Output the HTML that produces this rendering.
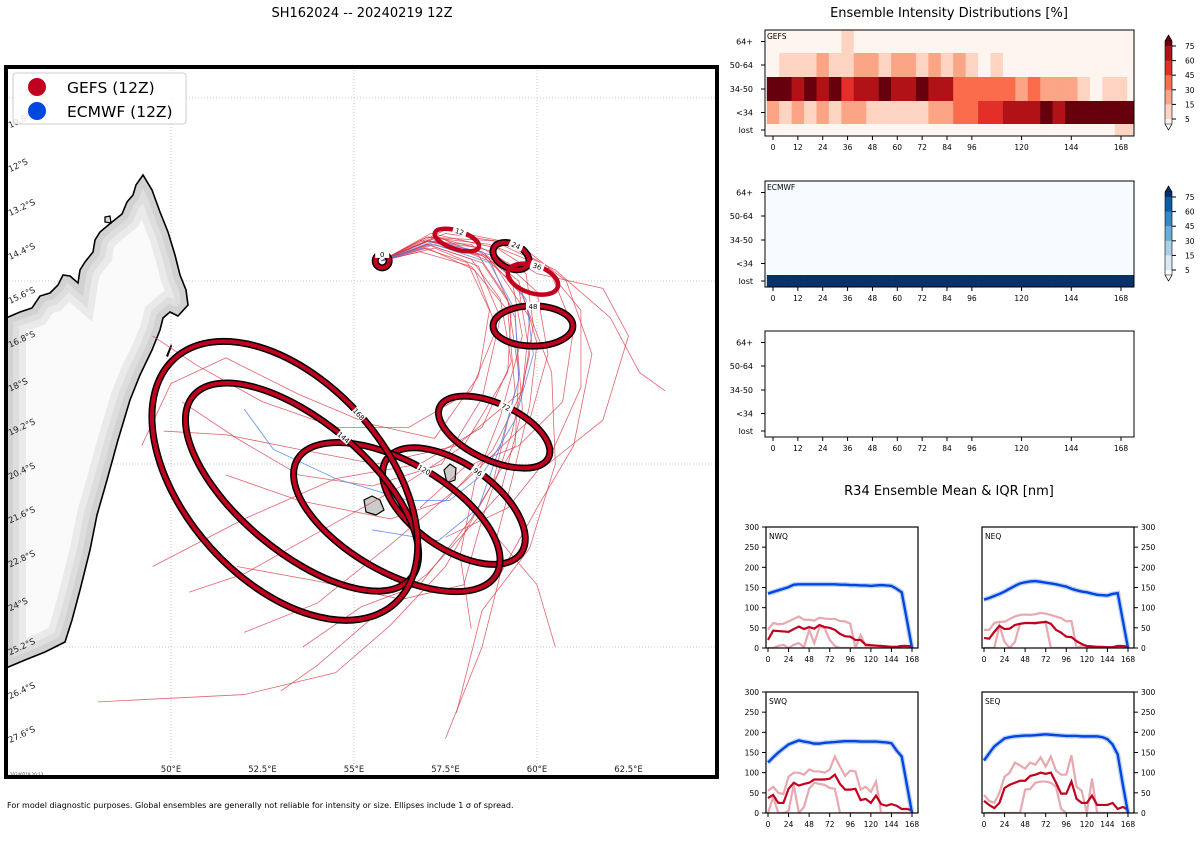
<!DOCTYPE html>
<html><head><meta charset="utf-8"><style>
body{margin:0;background:#fff;width:1200px;height:840px;overflow:hidden;font-family:"Liberation Sans","DejaVu Sans",sans-serif}
svg text{font-family:"DejaVu Sans","Liberation Sans",sans-serif}
</style></head><body>
<svg id="root" width="1200" height="840" viewBox="0 0 1200 840" xmlns="http://www.w3.org/2000/svg">
<text x="362" y="17" font-size="13" text-anchor="middle">SH162024 -- 20240219 12Z</text>
<text x="949" y="17" font-size="13" text-anchor="middle">Ensemble Intensity Distributions [%]</text>
<text x="949" y="495" font-size="13" text-anchor="middle">R34 Ensemble Mean &amp; IQR [nm]</text>
<text x="7" y="808" font-size="8">For model diagnostic purposes. Global ensembles are generally not reliable for intensity or size. Ellipses include 1 σ of spread.</text>
<defs><clipPath id="mapclip"><rect x="6" y="67" width="711" height="710"/></clipPath>
<clipPath id="landclip"><path id="landp" d="M143,175 L136,185 L133,195 L127,202 L122,214 L112,222 L100,232 L95,240 L93,252 L85,262 L80,270 L78,283 L70,276 L63,275 L58,285 L50,293 L40,296 L32,308 L20,312 L6,318 L6,668 L25,660 L45,652 L65,642 L72,620 L80,590 L90,550 L97,515 L107,480 L118,440 L130,400 L140,375 L152,350 L160,330 L163,318 L170,312 L178,316 L188,305 L186,290 L180,275 L175,255 L168,232 L160,212 L152,190 Z"/></clipPath></defs>
<g id="map">
<g clip-path="url(#mapclip)">
<g id="grid" stroke="#bbb" stroke-width="0.8" stroke-dasharray="1,2"></g>
<g>
<use href="#landp" fill="#fafafa"/>
<g clip-path="url(#landclip)" fill="none"><use href="#landp" stroke="#eaeaea" stroke-width="40"/><use href="#landp" stroke="#dedede" stroke-width="26"/><use href="#landp" stroke="#d2d2d2" stroke-width="14"/></g>
<use href="#landp" fill="none" stroke="#000" stroke-width="1.6"/>
<path d="M105,217 L110,216 L111,223 L105,222 Z" fill="#ddd" stroke="#000" stroke-width="1.3"/>
<path d="M171,344 L166,356 L168,357 L172,346 Z" fill="#000"/>
<path d="M364,500 L372,496 L380,500 L384,510 L376,515 L366,512 Z" fill="#ccc" stroke="#000" stroke-width="1.2"/>
<path d="M444,470 L450,464 L456,468 L455,480 L447,483 Z" fill="#ccc" stroke="#000" stroke-width="1.2"/>
</g>
<g id="tracks" fill="none"></g>
<g id="ellipses"></g>
</g>
<g id="latlabels" font-size="8.5" fill="#222"></g>
<g id="lonlabels" font-size="8.5" fill="#222"></g>
<text x="10" y="776" font-size="4" fill="#444">20240219 20:13</text>
<rect x="6" y="67" width="711" height="710" fill="none" stroke="#000" stroke-width="4"/>
<g>
<rect x="13" y="73" width="173" height="51" rx="3" fill="#fff" fill-opacity="0.85" stroke="#ccc"/>
<circle cx="37" cy="87" r="9" fill="#c0001e"/>
<text x="67" y="93" font-size="15.5">GEFS (12Z)</text>
<circle cx="37" cy="111" r="9" fill="#0046e0"/>
<text x="67" y="117" font-size="15.5">ECMWF (12Z)</text>
</g>
</g>
<g id="heat"></g>
<g id="r34"></g>
</svg>
<script>
const NS='http://www.w3.org/2000/svg';
function mk(tag,attrs,parent,txt){const e=document.createElementNS(NS,tag);for(const k in attrs)e.setAttribute(k,attrs[k]);if(txt!==undefined)e.textContent=txt;parent.appendChild(e);return e;}
// ---------------- MAP ----------------
const lonTicks=[50,52.5,55,57.5,60,62.5];
const lonTickLabels=['50°E','52.5°E','55°E','57.5°E','60°E','62.5°E'];
const latTicks=[10.8,12,13.2,14.4,15.6,16.8,18,19.2,20.4,21.6,22.8,24,25.2,26.4,27.6];
const latTickLabels=['10.8°S','12°S','13.2°S','14.4°S','15.6°S','16.8°S','18°S','19.2°S','20.4°S','21.6°S','22.8°S','24°S','25.2°S','26.4°S','27.6°S'];
const gridLons=[45,50,55,60,65];
const gridLats=[10,15,20,25];
function mx(lon){return 171+(lon-50)*36.6;}
function my(lat){return 464+(lat-20)*36.6;}
const grid=document.getElementById('grid');
gridLons.forEach(l=>{const g=mk('line',{x1:mx(l),x2:mx(l),y1:67,y2:777},grid);});
gridLats.forEach(l=>{const g=mk('line',{x1:6,x2:717,y1:my(l),y2:my(l)},grid);});
const latG=document.getElementById('latlabels');
latTicks.forEach((l,i)=>{const y=my(l)+1;const t=mk('text',{x:10,y:y,transform:`rotate(-25 10 ${y})`},latG,latTickLabels[i]);});
const lonG=document.getElementById('lonlabels');
lonTicks.forEach((l,i)=>{const t=mk('text',{x:mx(l),y:772,'text-anchor':'middle'},lonG,lonTickLabels[i]);});
// tracks as [lon,lat] points
const gefsTracks=[
[[55.75,14.45],[57,13.9],[58.5,14.1],[59.7,14.8],[59.9,16.2],[59.6,18],[58.8,19.6],[57.5,21],[56,21.5],[53.5,21],[51.5,20.3]],
[[55.75,14.45],[57.2,13.8],[58.8,14.2],[60,15.3],[60.3,17],[59.8,18.8],[58,20.5],[56,22.2],[54,23.8],[52,24.6]],
[[55.75,14.45],[57,14],[58.5,14.5],[59.3,15.7],[59.2,17.5],[58,19.5],[56.3,20.6],[54.5,21.6],[52,23],[50.5,23.5]],
[[55.75,14.45],[57.5,13.7],[59.5,14],[60.8,15],[61.5,17],[61,19.5],[60,21.2],[59,23],[58.5,25],[57.5,27.5]],
[[55.75,14.45],[57,13.8],[58.8,13.9],[60.5,14.7],[62,16],[62.8,17.5],[63.5,18]],
[[55.75,14.45],[57.2,14.1],[58.4,14.6],[59,16],[58.5,18.2],[57.4,20],[55.5,20.6],[53.5,20.3],[51.8,19.3],[50.3,18.3]],
[[55.75,14.45],[56.8,14.2],[58.2,14.6],[59.2,15.8],[59.4,18],[58.8,20.5],[57.5,22.8],[56,24.4],[54.5,25.7],[52,26.3],[48,26.5]],
[[55.75,14.45],[57,13.9],[58.6,14.3],[59.6,15.4],[60.4,17.5],[60.5,20],[59.8,22.3],[58.5,24],[57.8,26.8]],
[[55.75,14.45],[57.1,13.7],[58.9,14.1],[60,14.8],[61.8,15.2],[62.5,16.5],[61.8,18.8],[60.3,20]],
[[55.75,14.45],[57,14.1],[58.3,14.7],[58.9,16.3],[58.2,18],[56.5,19],[54.5,19],[52.5,18.3],[50.7,17.3],[49.5,16.5]],
[[55.75,14.45],[57.3,13.8],[58.7,14.4],[59.4,16],[59.6,18.5],[59,20.8],[57,23],[55.5,24.2],[54,25.5],[53,26.2]],
[[55.75,14.45],[57,14],[58.2,14.4],[59,15.5],[59.3,17.2],[58.5,19],[56.8,20],[54.5,20.4],[52,21.5],[49.5,22.8]],
[[55.75,14.45],[57.1,14],[58.5,14.3],[59.5,15.2],[59.8,17],[59.3,19.2],[58.5,21.5],[58,23.3],[56.3,23.7],[54,23.2],[51.8,22.8]],
[[55.75,14.45],[57,13.8],[58.7,14],[60.2,14.6],[61.2,15.8],[61.2,17.9],[60.4,19.7],[59.2,21.2],[57.5,22]],
[[55.75,14.45],[56.9,14.1],[58.1,14.5],[58.7,15.8],[58.4,17.6],[57.2,19.3],[55.4,18.9],[53.5,18.1],[51.5,17.1],[50,17.8],[49.2,19.5]],
[[55.75,14.45],[57,13.9],[58.5,14.2],[59.5,15],[60,16.7],[59.8,18.4],[59.3,20.5],[58.9,22],[60,23.3],[60.5,25]],
[[55.75,14.45],[57.3,13.9],[58.8,14.5],[59.8,16],[59.6,18],[57.8,19.5],[55.6,20],[53.5,19.6],[51.5,19.2],[49.8,19.1]],
[[55.75,14.45],[57,13.9],[58.4,14.3],[59.2,15.5],[59.5,17.5],[59.4,19.5],[58.2,21.5],[56.8,23.3],[55.2,23.9],[53.6,25]],
[[55.75,14.45],[57.5,13.6],[59,13.9],[60.3,14.6],[61,16.3],[60.7,18.3],[59.5,19.5],[58,20.1],[56.8,21.2]],
[[55.75,14.45],[56.8,13.9],[58.2,14],[59.3,14.9],[59.6,16.5],[59,18.7],[58.3,20.5],[57.9,22.5],[58.2,24.5]]
];
const ecmwfTracks=[
[[55.75,14.45],[57.2,13.9],[58.8,14.3],[59.7,15.5],[59.9,17],[59.4,18.8],[58.5,20.3],[57.6,21],[56.5,21],[54.5,20.4],[52.8,19.6],[52,18.5]],
[[55.75,14.45],[57.2,14],[58.7,14.5],[59.4,15.8],[59.5,17.7],[59,19.5],[58.4,21.2],[57.3,22.1],[55.5,21.8]]
];
const tg=document.getElementById('tracks');
gefsTracks.forEach(t=>{const p=mk('polyline',{points:t.map(q=>mx(q[0])+','+my(q[1])).join(' '),stroke:'#d8303f','stroke-width':0.8,'stroke-opacity':0.75},tg);});
ecmwfTracks.forEach(t=>{const p=mk('polyline',{points:t.map(q=>mx(q[0])+','+my(q[1])).join(' '),stroke:'#4f7ff0','stroke-width':0.9,'stroke-opacity':0.8},tg);});
// ellipses: hour, center lon, lat, semi axes (deg), rotation, outlined
const ellHours=[0,12,24,36,48,72,96,120,144,168];
const ellLon=[55.77,57.81,59.29,59.89,59.89,58.83,57.73,56.17,53.58,53.11];
const ellLat=[14.45,13.88,14.32,14.95,16.23,19.13,21.15,21.45,20.63,20.46];
const ellA=[0.19,0.63,0.52,0.71,1.09,1.64,2.24,3.14,3.88,4.5];
const ellB=[0.19,0.25,0.33,0.38,0.55,0.77,1.15,1.5,1.78,2.73];
const ellRot=[0,18,25,18,0,25,35,30,40,48];
const ellOutline=[1,0,1,0,1,1,1,1,1,1];
const eg=document.getElementById('ellipses');
ellHours.forEach((h,i)=>{const cx=mx(ellLon[i]),cy=my(ellLat[i]),rx=ellA[i]*36.6,ry=ellB[i]*36.6;
 const g=mk('g',{transform:`rotate(${ellRot[i]} ${cx} ${cy})`},eg);
 if(ellOutline[i])mk('ellipse',{cx,cy,rx,ry,fill:'none',stroke:'#000','stroke-width':7},g);
 mk('ellipse',{cx,cy,rx,ry,fill:'none',stroke:'#c0001e','stroke-width':ellOutline[i]?4:4.5},g);
 const lx=cx,ly=cy-ry;mk('rect',{x:lx-7,y:ly-4,width:14,height:8,fill:'#fff'},g);
 const t=mk('text',{x:lx,y:ly+3,'font-size':7,'text-anchor':'middle'},g,String(h));});
// ---------------- HEATMAPS ----------------
const hours=[0,12,24,36,48,60,72,84,96,120,144,168];
const rowLabels=['64+','50-64','34-50','<34','lost'];
const gefsLevels=[
[0,0,0,0,0,0,1,0,0,0,0,0,0,0,0,0,0,0,0,0,0,0,0,0,0,0,0,0,0,0],
[0,1,1,1,2,1,1,2,2,1,2,2,1,2,1,2,1,0,1,0,0,0,0,0,0,0,0,0,0,0],
[6,6,5,6,5,6,4,5,5,6,5,5,6,5,5,3,3,3,3,3,2,3,2,2,2,1,0,1,1,0],
[2,1,2,1,2,1,2,2,1,1,1,1,1,2,2,3,3,4,4,5,5,5,6,5,6,6,6,6,6,6],
[0,0,0,0,0,0,0,0,0,0,0,0,0,0,0,0,0,0,0,0,0,0,0,0,0,0,0,0,1,1]];
const ecmwfLevels=[
[0,0,0,0,0,0,0,0,0,0,0,0,0,0,0,0,0,0,0,0,0,0,0,0,0,0,0,0,0,0],
[0,0,0,0,0,0,0,0,0,0,0,0,0,0,0,0,0,0,0,0,0,0,0,0,0,0,0,0,0,0],
[0,0,0,0,0,0,0,0,0,0,0,0,0,0,0,0,0,0,0,0,0,0,0,0,0,0,0,0,0,0],
[0,0,0,0,0,0,0,0,0,0,0,0,0,0,0,0,0,0,0,0,0,0,0,0,0,0,0,0,0,0],
[6,6,6,6,6,6,6,6,6,6,6,6,6,6,6,6,6,6,6,6,6,6,6,6,6,6,6,6,6,6]];
const cbTicks=[5,15,30,45,60,75];
const reds=['#fff5f0','#fdd4c2','#fca486','#fb6c4c','#e32f27','#b11218','#67000d'];
const blues=['#f7fbff','#dbe9f6','#abd0e6','#6aaed6','#3787c0','#105ba4','#08306b'];
const heat=document.getElementById('heat');
function hx(h){return 773+h*(1121-773)/168;}
function heatPanel(top,name,levels,cols,cbar){
 const bot=top+106;const rowY=[top,top+23,top+47,top+71,top+94,bot];
 const g=mk('g',{},heat);
 mk('rect',{x:765,y:top,width:369,height:106,fill:'#fff'},g);
 if(levels){levels.forEach((row,r)=>row.forEach((lv,c)=>{let x0=Math.max(765,hx(c*6-3)),x1=Math.min(1134,hx(c*6+3));
  const cell=mk('rect',{x:x0,y:rowY[r],width:x1-x0+0.3,height:rowY[r+1]-rowY[r]+0.3,fill:cols[lv]},g);}));
  const t=mk('text',{x:767,y:top+9,'font-size':7.5},g,name);}
 mk('rect',{x:765,y:top,width:369,height:106,fill:'none',stroke:'#000','stroke-width':1},g);
 rowLabels.forEach((l,r)=>{const y=(rowY[r]+rowY[r+1])/2;mk('line',{x1:761,x2:765,y1:y,y2:y,stroke:'#000'},g);
  const t=mk('text',{x:753,y:y+3,'font-size':8,'text-anchor':'end'},g,l);});
 hours.forEach(h=>{mk('line',{x1:hx(h),x2:hx(h),y1:bot,y2:bot+4,stroke:'#000'},g);
  const t=mk('text',{x:hx(h),y:bot+14,'font-size':7.5,'text-anchor':'middle'},g,String(h));});
 if(cbar){const cg=mk('g',{},g);
  const y75=top+16,y5=top+89,st=(y5-y75)/5;
  mk('polygon',{points:`1165,${y75-5} 1168.5,${top+5} 1172,${y75-5}`,fill:cols[6],stroke:'#000','stroke-width':0.5},cg);
  mk('rect',{x:1165,y:y75-5,width:7,height:5,fill:cols[6]},cg);
  for(let k=0;k<5;k++)mk('rect',{x:1165,y:y75+k*st,width:7,height:st+0.3,fill:cols[5-k]},cg);
  mk('rect',{x:1165,y:y5,width:7,height:5,fill:cols[0]},cg);
  mk('polygon',{points:`1165,${y5+5} 1168.5,${top+100} 1172,${y5+5}`,fill:'#fff',stroke:'#000','stroke-width':0.5},cg);
  mk('path',{d:`M1165,${y75-5} L1168.5,${top+5} L1172,${y75-5} L1172,${y5+5} L1168.5,${top+100} L1165,${y5+5} Z`,fill:'none',stroke:'#000','stroke-width':0.6},cg);
  cbTicks.forEach((v,i)=>{const y=[y5,y75+4*st,y75+3*st,y75+2*st,y75+st,y75][i];mk('line',{x1:1172,x2:1176,y1:y,y2:y,stroke:'#000'},cg);
   const t=mk('text',{x:1185,y:y+3,'font-size':7.5},cg,String(v));});}
}
heatPanel(30,'GEFS',gefsLevels,reds,true);
heatPanel(181,'ECMWF',ecmwfLevels,blues,true);
heatPanel(331,null,null,null,false);
// ---------------- R34 ----------------
const r34Hours=[0,6,12,18,24,30,36,42,48,54,60,66,72,78,84,90,96,102,108,114,120,126,132,138,144,150,156,162,168];
const r34Ticks=[0,50,100,150,200,250,300];
const xTicks=[0,24,48,72,96,120,144,168];
const nwqEcmwf=[135,139,143,147,151,157,158,158,158,158,158,158,158,158,157,157,156,156,155,155,154,155,156,155,154,147,138,70,0];
const nwqGefs=[20,43,42,41,40,47,53,47,52,48,57,52,50,45,35,29,28,20,20,8,7,6,5,4,3,3,5,5,4];
const nwqGefsHi=[45,62,59,60,66,72,78,70,70,68,75,73,72,72,67,66,60,0,32,5,5,5,5,3,3,3,5,5,4];
const nwqGefsLo=[0,0,5,8,0,8,12,2,45,12,52,50,20,5,0,0,0,0,0,0,0,0,0,0,0,0,0,0,0];
const neqEcmwf=[120,124,129,134,140,147,154,160,163,165,166,164,162,160,158,155,152,147,143,140,138,135,132,131,130,134,136,68,0];
const neqGefs=[25,23,40,55,47,48,57,60,62,62,62,63,65,60,45,38,28,27,17,10,5,4,3,3,2,2,5,5,3];
const neqGefsHi=[45,45,62,65,65,72,78,82,83,82,84,87,85,82,78,74,66,67,0,5,4,3,3,2,2,2,5,5,3];
const neqGefsLo=[0,0,0,55,15,0,15,60,62,62,60,65,62,0,0,0,0,0,0,0,0,0,0,0,0,0,0,0,0];
const swqEcmwf=[125,138,150,160,170,175,180,177,175,172,172,174,175,176,177,178,178,178,177,177,177,177,176,175,173,155,140,70,0];
const swqGefs=[37,45,25,25,60,75,68,72,75,83,83,83,85,95,72,58,58,60,32,35,25,43,22,18,22,18,10,10,7];
const swqGefsHi=[55,65,50,47,90,100,100,95,108,103,103,100,108,140,115,92,105,103,58,65,52,78,0,0,0,0,0,0,0];
const swqGefsLo=[0,40,0,0,5,70,0,15,60,75,72,70,62,60,0,0,0,0,0,0,0,0,0,0,0,0,0,0,0];
const seqEcmwf=[130,148,165,175,185,188,190,191,192,192,193,194,195,194,193,192,191,191,191,190,190,190,190,188,183,170,145,70,0];
const seqGefs=[30,20,12,25,62,70,75,80,80,92,95,100,97,100,75,48,48,78,35,25,25,43,20,20,20,25,10,15,8];
const seqGefsHi=[45,30,25,50,90,100,125,118,110,125,120,138,115,140,105,95,95,143,65,55,0,85,0,0,0,0,0,0,0];
const seqGefsLo=[0,0,0,0,0,0,0,0,58,60,75,78,78,75,65,10,0,0,0,0,0,0,0,0,0,0,0,0,0];
const r34g=document.getElementById('r34');
function r34Panel(x0,top,label,rightAxis,ec,gm,hi,lo){
 const w=152,h=121,bot=top+h;
 const xs=hh=>x0+2+hh*(w-8)/168, ys=v=>bot-v*h/300;
 const g=mk('g',{},r34g);
 mk('rect',{x:x0,y:top,width:w,height:h,fill:'#fff'},g);
 const cp='cp'+label;const c=mk('clipPath',{id:cp},g);mk('rect',{x:x0,y:top-3,width:w,height:h+3},c);
 const pg=mk('g',{'clip-path':`url(#${cp})`},g);
 const pts=a=>a.map((v,i)=>xs(r34Hours[i])+','+ys(v)).join(' ');
 let l;
 l=mk('polyline',{points:pts(ec),fill:'none',stroke:'#0046e0','stroke-width':5,'stroke-opacity':0.25},pg);
 l=mk('polyline',{points:pts(hi),fill:'none',stroke:'#e8a8b0','stroke-width':2.2},pg);
 l=mk('polyline',{points:pts(lo),fill:'none',stroke:'#e8a8b0','stroke-width':2.2},pg);
 l=mk('polyline',{points:pts(gm),fill:'none',stroke:'#c0001e','stroke-width':2.2},pg);
 l=mk('polyline',{points:pts(ec),fill:'none',stroke:'#0046e0','stroke-width':2.4},pg);
 mk('rect',{x:x0,y:top,width:w,height:h,fill:'none',stroke:'#000','stroke-width':1.2},g);
 const t=mk('text',{x:x0+3,y:top+12,'font-size':7.5},g,label);
 const ax=rightAxis?x0+w:x0;
 r34Ticks.forEach(v=>{const y=ys(v);mk('line',{x1:rightAxis?ax:ax-4,x2:rightAxis?ax+4:ax,y1:y,y2:y,stroke:'#000'},g);
  const tt=mk('text',{x:rightAxis?ax+7:ax-7,y:y+3,'font-size':7.5,'text-anchor':rightAxis?'start':'end'},g,String(v));});
 xTicks.forEach(hr=>{const x=xs(hr);mk('line',{x1:x,x2:x,y1:bot,y2:bot+4,stroke:'#000'},g);
  const tt=mk('text',{x:x,y:bot+14,'font-size':7.5,'text-anchor':'middle'},g,String(hr));});
}
r34Panel(766,527,'NWQ',false,nwqEcmwf,nwqGefs,nwqGefsHi,nwqGefsLo);
r34Panel(982,527,'NEQ',true,neqEcmwf,neqGefs,neqGefsHi,neqGefsLo);
r34Panel(766,692,'SWQ',false,swqEcmwf,swqGefs,swqGefsHi,swqGefsLo);
r34Panel(982,692,'SEQ',true,seqEcmwf,seqGefs,seqGefsHi,seqGefsLo);
</script>
</body></html>
